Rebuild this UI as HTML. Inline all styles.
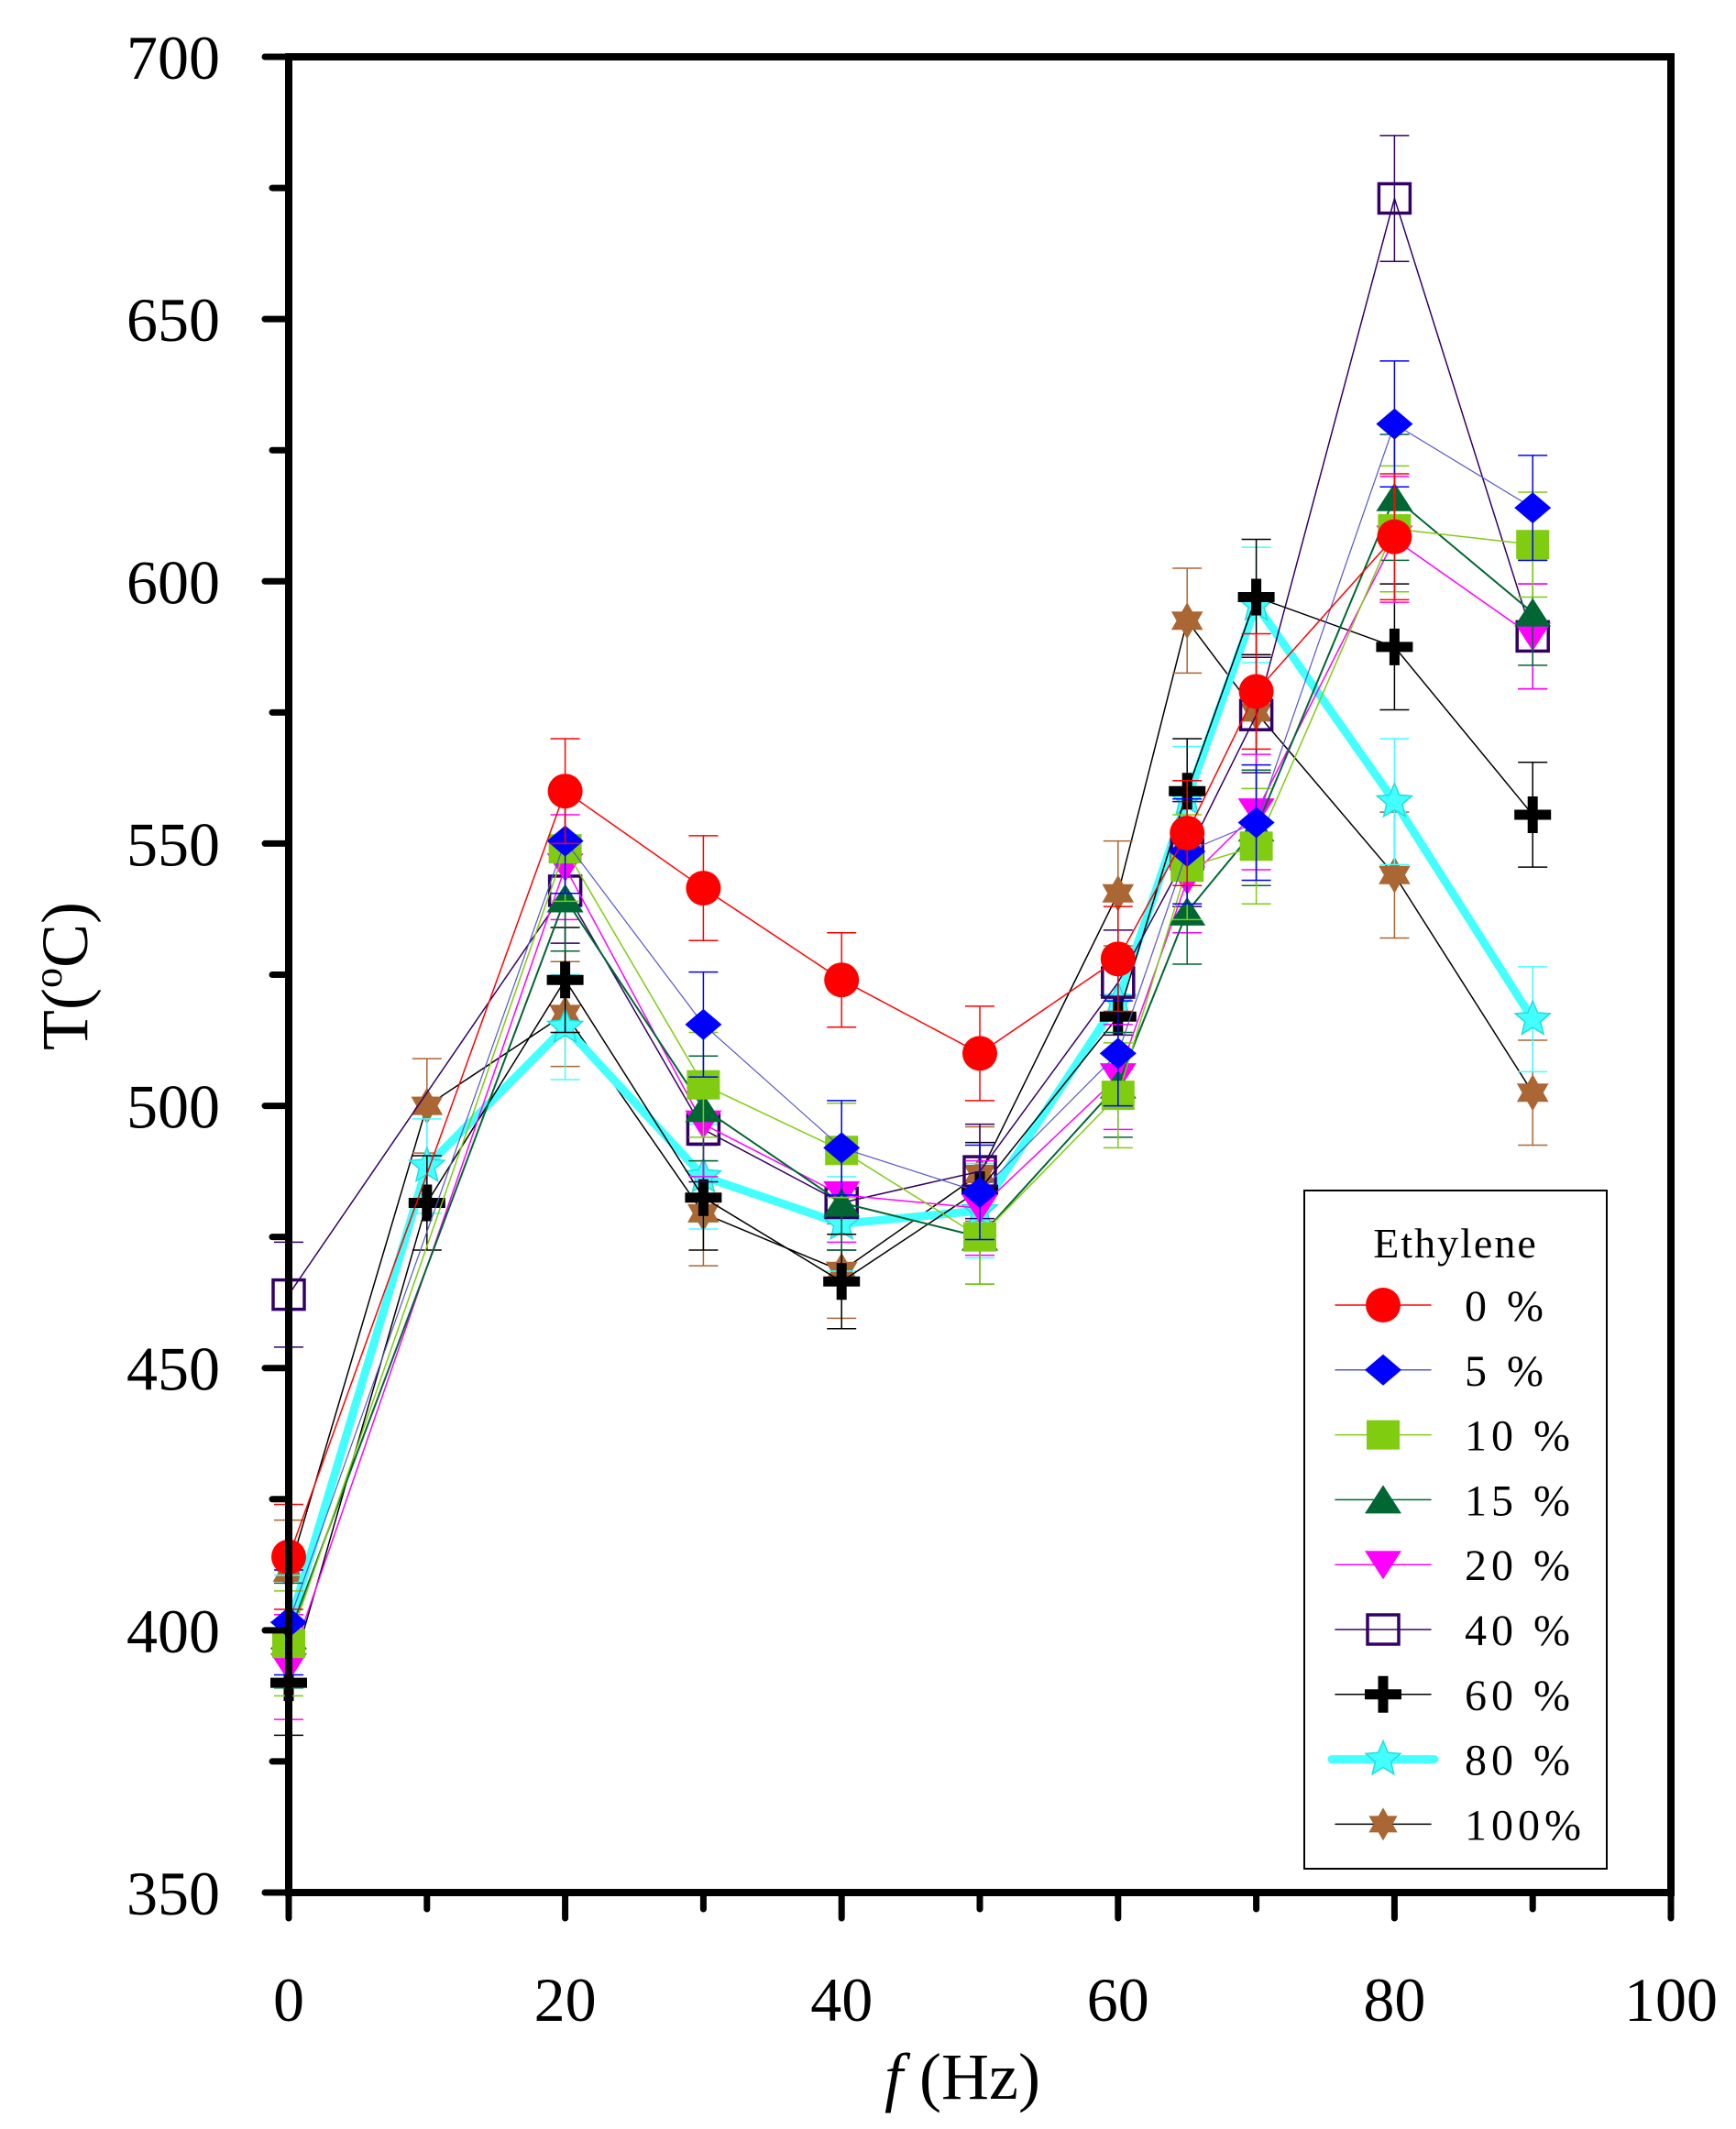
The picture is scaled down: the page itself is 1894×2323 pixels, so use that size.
<!DOCTYPE html>
<html><head><meta charset="utf-8"><style>
html,body{margin:0;padding:0;background:#fff;}
svg{display:block;font-family:"Liberation Serif",serif;}
</style></head><body>
<svg id="chart" width="1894" height="2323" viewBox="0 0 1894 2323" xmlns="http://www.w3.org/2000/svg">
<rect width="1894" height="2323" fill="#fff"/>
<g id="series-layer"></g>
<g id="axes-layer"></g>
<g id="legend-layer"></g>
</svg>
<script>
const freqs = [0, 10, 20, 30, 40, 50, 60, 65, 70, 80, 90];
const yTicks = [350, 400, 450, 500, 550, 600, 650, 700];
const xTicks = [0, 20, 40, 60, 80, 100];
const seriesNames = ["0 %", "5 %", "10 %", "15 %", "20 %", "40 %", "60 %", "80 %", "100%"];
const s0 = [414, null, 560, 541.5, 524, 510, 528, 552, 579, 608.5, null];
const s5 = [401.5, null, 550.5, 515.5, 492, 483.5, 510, 548.5, 554, 630, 614];
const s10 = [397.5, null, 549, 504, 491.5, 475, 502, 545.5, 549.5, 610, 607];
const s15 = [399, null, 539.5, 499.5, 481.5, 475, 504, 537, 553, 616, 594];
const s20 = [393, null, 545.5, 496.5, 483, 480.5, 505.5, 543, 556, 608, 589.5];
const s40 = [464, null, 541, 495.5, 481.5, 487.5, 523.5, 548, 574.5, 673, 589.5];
const s60 = [390, 481.5, 524, 482.5, 466.5, 484, 517, 560, 597, 587.5, 555.5];
const s80 = [400.5, 488.5, 515, 486.5, 477.5, 480, 520, 558.5, 595.5, 558, 516.5];
const s100 = [411, 500, 517.5, 479.5, 468.5, 487, 540.5, 592.5, 575, 544, 502.5];
const errs = [10, 9, 10, 10, 9, 9, 10, 10, 11, 12, 10];

const NS = "http://www.w3.org/2000/svg";
const X0 = 315, X1 = 1823, Y0 = 2065, Y1 = 62;
function xs(v){ return X0 + (v - 0) / 100 * (X1 - X0); }
function ys(v){ return Y0 - (v - 350) / 350 * (Y0 - Y1); }
function mk(tag, attrs, parent){
  const e = document.createElementNS(NS, tag);
  for (const k in attrs) e.setAttribute(k, attrs[k]);
  parent.appendChild(e);
  return e;
}
const styles = [
  {color:"#ff0000", shape:"circle", lw:1.5},
  {color:"#0000ff", shape:"diamond", lw:1.2, line:"#5555cc"},
  {color:"#80cc10", shape:"square", lw:1.5},
  {color:"#006633", shape:"tri", lw:2},
  {color:"#ff00ff", shape:"tridown", lw:1.5},
  {color:"#330066", shape:"hsquare", lw:1.5},
  {color:"#000000", shape:"plus", lw:1.5},
  {color:"#44ffff", shape:"star5", lw:9},
  {color:"#aa6633", shape:"star6", lw:1.5, line:"#000000"}
];
const allSeries = [s0, s5, s10, s15, s20, s40, s60, s80, s100];

function marker(g, shape, cx, cy, color, r){
  let el;
  if (shape === "circle") el = mk("circle", {cx:cx, cy:cy, r:r*0.95, fill:color}, g);
  else if (shape === "diamond") el = mk("polygon", {points:`${cx-r},${cy} ${cx},${cy-r*0.85} ${cx+r},${cy} ${cx},${cy+r*0.85}`, fill:color}, g);
  else if (shape === "square") el = mk("rect", {x:cx-r*0.9, y:cy-r*0.8, width:r*1.8, height:r*1.6, fill:color}, g);
  else if (shape === "tri") el = mk("polygon", {points:`${cx-r},${cy+r*0.75} ${cx},${cy-r*0.8} ${cx+r},${cy+r*0.75}`, fill:color}, g);
  else if (shape === "tridown") el = mk("polygon", {points:`${cx-r},${cy-r*0.75} ${cx},${cy+r*0.8} ${cx+r},${cy-r*0.75}`, fill:color}, g);
  else if (shape === "hsquare") el = mk("rect", {x:cx-r*0.85, y:cy-r*0.8, width:r*1.7, height:r*1.6, fill:"none", stroke:color, "stroke-width":3.5}, g);
  else if (shape === "plus") el = mk("path", {d:`M${cx-r} ${cy}H${cx+r}M${cx} ${cy-r}V${cy+r}`, stroke:color, "stroke-width":r*0.55, fill:"none"}, g);
  else if (shape === "star5" || shape === "star6") {
    const n = shape === "star5" ? 5 : 6, ri = shape === "star5" ? r*0.45 : r*0.58;
    let pts = [];
    for (let i = 0; i < 2*n; i++){
      const a = -Math.PI/2 + i*Math.PI/n, rr = i%2 ? ri : r;
      pts.push((cx + rr*Math.cos(a)).toFixed(1) + "," + (cy + rr*Math.sin(a)).toFixed(1));
    }
    el = mk("polygon", {points:pts.join(" "), fill:color, stroke: shape==="star5" ? "#22dddd" : "none", "stroke-width":1.5}, g);
  }
  return el;
}

const sl = document.getElementById("series-layer");
for (let si = allSeries.length - 1; si >= 0; si--){
  const data = allSeries[si], st = styles[si];
  const g = mk("g", {}, sl);
  
  
  let pts = [];
  data.forEach((v, i) => { if (v !== null) pts.push(xs(freqs[i]).toFixed(1) + "," + ys(v).toFixed(1)); });
  const pl = mk("polyline", {points:pts.join(" "), fill:"none", stroke: st.line || st.color, "stroke-width":st.lw, "stroke-linejoin":"round"}, g);
  
  
  data.forEach((v, i) => {
    if (v === null) return;
    const cx = xs(freqs[i]), cy = ys(v), e = errs[i];
    const eb = mk("path", {d:`M${cx} ${ys(v+e)}V${ys(v-e)}M${cx-16} ${ys(v+e)}H${cx+16}M${cx-16} ${ys(v-e)}H${cx+16}`, stroke: si===7 ? "#44ffff" : st.color, "stroke-width":1.5, fill:"none"}, g);
    
    
    const m = marker(g, st.shape, cx, cy, st.color, 20);
    
    
  });
}

const ax = document.getElementById("axes-layer");
const frame = mk("rect", {x:X0, y:Y1, width:X1-X0, height:Y0-Y1, fill:"none", stroke:"#000", "stroke-width":8}, ax);


for (let v = 350; v <= 700; v += 25){
  const major = v % 50 === 0;
  const t = mk("line", {x1:X0 - (major?26:18), x2:X0, y1:ys(v), y2:ys(v), stroke:"#000", "stroke-width":7, "stroke-linecap":"round"}, ax);
  
  
}
yTicks.forEach(v => {
  const t = mk("text", {x:240, y:ys(v)+24, "text-anchor":"end", "font-size":68}, ax);
  t.textContent = v;
  
  
});
for (let v = 0; v <= 100; v += 10){
  const major = v % 20 === 0;
  const t = mk("line", {x1:xs(v), x2:xs(v), y1:Y0, y2:Y0 + (major?28:18), stroke:"#000", "stroke-width":7, "stroke-linecap":"round"}, ax);
  
  
}
xTicks.forEach(v => {
  const t = mk("text", {x:xs(v), y:2205, "text-anchor":"middle", "font-size":68}, ax);
  t.textContent = v;
  
  
});
</script>
<svg style="position:absolute;left:0;top:0" width="1894" height="2323">
<text x="1050" y="2290" text-anchor="middle" font-size="72" font-family="Liberation Serif, serif"><tspan font-style="italic">f</tspan> (Hz)</text>
<text transform="translate(95,1065) rotate(-90)" text-anchor="middle" font-size="72" font-family="Liberation Serif, serif">T(<tspan font-size="44" dy="-28">o</tspan><tspan dy="28">C)</tspan></text>
</svg>
<script>
const lg = document.getElementById("legend-layer");
const box = mk("rect", {x:1423, y:1299, width:330, height:740, fill:"#fff", stroke:"#000", "stroke-width":2}, lg);


const lt = mk("text", {x:1588, y:1372, "text-anchor":"middle", "font-size":46, "letter-spacing":2}, lg);
lt.textContent = "Ethylene";


seriesNames.forEach((n, i) => {
  const y = 1424 + i * 70.8, st = styles[i];
  const g = mk("g", {}, lg);
  
  
  mk("line", {x1: i===7 ? 1453 : 1457, x2: i===7 ? 1565 : 1561, y1:y, y2:y, stroke: st.line || st.color, "stroke-width": i===7 ? 9 : 1.5, "stroke-linecap":"round"}, g);
  marker(g, st.shape, 1509, y, st.color, i===8 ? 18 : 20);
  const t = mk("text", {x: 1598, y:y+17, "font-size":48, "letter-spacing":5}, g);
  t.textContent = n;
});
</script>
</body></html>
